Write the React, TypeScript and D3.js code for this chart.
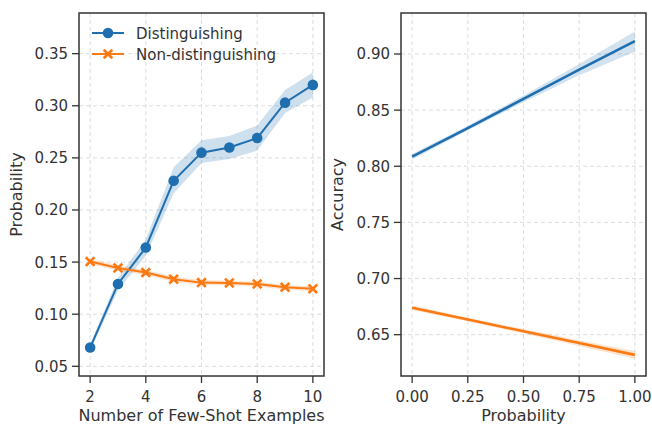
import React from 'react';
import * as d3 from 'd3';

// left panel: probability vs number of few-shot examples
const shots = [2, 3, 4, 5, 6, 7, 8, 9, 10];
const distinguishing = [0.068, 0.129, 0.164, 0.228, 0.255, 0.260, 0.269, 0.303, 0.320];
const distLow = [0.065, 0.123, 0.156, 0.216, 0.245, 0.249, 0.257, 0.293, 0.308];
const distHigh = [0.071, 0.135, 0.172, 0.241, 0.267, 0.271, 0.281, 0.315, 0.332];
const nonDistinguishing = [0.1505, 0.1444, 0.140, 0.1336, 0.1303, 0.130, 0.129, 0.1259, 0.1243];
const nonLow = [0.148, 0.142, 0.1375, 0.131, 0.128, 0.1278, 0.1268, 0.1235, 0.122];
const nonHigh = [0.153, 0.147, 0.1425, 0.1362, 0.1326, 0.1322, 0.1312, 0.1283, 0.1266];
const leftXTicks = [2, 4, 6, 8, 10];
const leftYTicks = [0.05, 0.10, 0.15, 0.20, 0.25, 0.30, 0.35];

// right panel: accuracy vs probability (regression fits)
const probGrid = [0, 0.25, 0.5, 0.75, 1];
const accDist = [0.8085, 0.834, 0.860, 0.886, 0.9115];
const accDistLow = [0.806, 0.832, 0.857, 0.881, 0.902];
const accDistHigh = [0.811, 0.836, 0.863, 0.891, 0.920];
const accNon = [0.674, 0.6635, 0.653, 0.6425, 0.632];
const accNonLow = [0.672, 0.662, 0.651, 0.640, 0.6285];
const accNonHigh = [0.676, 0.665, 0.655, 0.645, 0.6355];
const rightXTicks = [0, 0.25, 0.5, 0.75, 1];
const rightYTicks = [0.65, 0.70, 0.75, 0.80, 0.85, 0.90];

const BLUE = '#1f6fb0';
const ORANGE = '#fb7a14';
const INK = '#333';
const FONT = 'DejaVu Sans, sans-serif';

function xMarker(cx: number, cy: number, s: number) {
  // filled "X" like matplotlib's 'X'
  const a = s / 2, w = s * 0.18;
  const pts = [
    [-a, -a + w], [-a + w, -a], [0, -w], [a - w, -a], [a, -a + w], [w, 0],
    [a, a - w], [a - w, a], [0, w], [-a + w, a], [-a, a - w], [-w, 0],
  ];
  return 'M' + pts.map(p => `${cx + p[0]},${cy + p[1]}`).join('L') + 'Z';
}

type PanelProps = {
  x0: number; x1: number; y0: number; y1: number;
  xDomain: [number, number]; yDomain: [number, number];
  xTicks: number[]; yTicks: number[];
  xFmt: (v: number) => string; yFmt: (v: number) => string;
  xLabel: string; yLabel: string; yLabelX: number;
  children: (x: d3.ScaleLinear<number, number>, y: d3.ScaleLinear<number, number>) => React.ReactNode;
};

function Panel(p: PanelProps) {
  const x = d3.scaleLinear().domain(p.xDomain).range([p.x0, p.x1]);
  const y = d3.scaleLinear().domain(p.yDomain).range([p.y1, p.y0]);
  const clipId = `clip${p.x0}`;
  return (
    <g>
      <defs>
        <clipPath id={clipId}>
          <rect x={p.x0} y={p.y0} width={p.x1 - p.x0} height={p.y1 - p.y0} />
        </clipPath>
      </defs>
      {p.xTicks.map(t => (
        <line key={'gx' + t} x1={x(t)} x2={x(t)} y1={p.y0} y2={p.y1}
          stroke="#d9d9d9" strokeWidth={0.9} strokeDasharray="4,3" />
      ))}
      {p.yTicks.map(t => (
        <line key={'gy' + t} x1={p.x0} x2={p.x1} y1={y(t)} y2={y(t)}
          stroke="#d9d9d9" strokeWidth={0.9} strokeDasharray="4,3" />
      ))}
      <g clipPath={`url(#${clipId})`}>{p.children(x, y)}</g>
      <rect x={p.x0} y={p.y0} width={p.x1 - p.x0} height={p.y1 - p.y0}
        fill="none" stroke={INK} strokeWidth={1.5} />
      {p.xTicks.map(t => (
        <g key={'tx' + t}>
          <line x1={x(t)} x2={x(t)} y1={p.y1} y2={p.y1 + 7} stroke={INK} strokeWidth={1.3} />
          <text x={x(t)} y={p.y1 + 26} textAnchor="middle" fontSize={15} fill={INK} fontFamily={FONT}>
            {p.xFmt(t)}
          </text>
        </g>
      ))}
      {p.yTicks.map(t => (
        <g key={'ty' + t}>
          <line x1={p.x0 - 7} x2={p.x0} y1={y(t)} y2={y(t)} stroke={INK} strokeWidth={1.3} />
          <text x={p.x0 - 11} y={y(t) + 5.5} textAnchor="end" fontSize={15} fill={INK} fontFamily={FONT}>
            {p.yFmt(t)}
          </text>
        </g>
      ))}
      <text x={(p.x0 + p.x1) / 2} y={p.y1 + 45} textAnchor="middle" fontSize={16} fill={INK} fontFamily={FONT}>
        {p.xLabel}
      </text>
      <text transform={`translate(${p.yLabelX},${(p.y0 + p.y1) / 2}) rotate(-90)`} textAnchor="middle"
        fontSize={16} fill={INK} fontFamily={FONT}>
        {p.yLabel}
      </text>
    </g>
  );
}

export default function App() {
  const f2 = d3.format('.2f');
  const leftProps = {
    x0: 79, x1: 324, y0: 13, y1: 376,
    xDomain: [1.6, 10.4] as [number, number], yDomain: [0.0407, 0.389] as [number, number],
    xTicks: leftXTicks, yTicks: leftYTicks,
    xFmt: (v: number) => String(v), yFmt: f2,
    xLabel: 'Number of Few-Shot Examples', yLabel: 'Probability', yLabelX: 22,
  };
  const rightProps = {
    x0: 401, x1: 646, y0: 13, y1: 376,
    xDomain: [-0.05, 1.05] as [number, number], yDomain: [0.6132, 0.9365] as [number, number],
    xTicks: rightXTicks, yTicks: rightYTicks,
    xFmt: f2, yFmt: f2,
    xLabel: 'Probability', yLabel: 'Accuracy', yLabelX: 343,
  };

  return (
    <svg width={652} height={426} style={{ position: 'absolute', left: 0, top: 0, background: '#fff' }}>
      <rect width={652} height={426} fill="#fff" />
      <Panel {...leftProps}>
        {(x, y) => {
          const band = d3.area<number>().x((_, i) => x(shots[i]));
          const line = d3.line<number>().x((_, i) => x(shots[i])).y(d => y(d));
          return (
            <g>
              <path d={band.y0((_, i) => y(distLow[i])).y1((_, i) => y(distHigh[i]))(shots) || ''}
                fill={BLUE} opacity={0.22} />
              <path d={band.y0((_, i) => y(nonLow[i])).y1((_, i) => y(nonHigh[i]))(shots) || ''}
                fill={ORANGE} opacity={0.22} />
              <path d={line(distinguishing) || ''} fill="none" stroke={BLUE} strokeWidth={2} />
              <path d={line(nonDistinguishing) || ''} fill="none" stroke={ORANGE} strokeWidth={2} />
              {distinguishing.map((v, i) => (
                <circle key={'d' + i} cx={x(shots[i])} cy={y(v)} r={5.3} fill={BLUE} />
              ))}
              {nonDistinguishing.map((v, i) => (
                <path key={'n' + i} d={xMarker(x(shots[i]), y(v), 10.5)} fill={ORANGE} />
              ))}
            </g>
          );
        }}
      </Panel>
      <Panel {...rightProps}>
        {(x, y) => {
          const band = d3.area<number>().x(d => x(d));
          const line = d3.line<number>().x((_, i) => x(probGrid[i])).y(d => y(d));
          return (
            <g>
              <path d={band.y0((_, i) => y(accDistLow[i])).y1((_, i) => y(accDistHigh[i]))(probGrid) || ''}
                fill={BLUE} opacity={0.2} />
              <path d={band.y0((_, i) => y(accNonLow[i])).y1((_, i) => y(accNonHigh[i]))(probGrid) || ''}
                fill={ORANGE} opacity={0.2} />
              <path d={line(accDist) || ''} fill="none" stroke={BLUE} strokeWidth={2.6} />
              <path d={line(accNon) || ''} fill="none" stroke={ORANGE} strokeWidth={2.6} />
            </g>
          );
        }}
      </Panel>
      {/* legend */}
      <g fontFamily={FONT} fontSize={15} fill={INK}>
        <line x1={92} x2={124} y1={33} y2={33} stroke={BLUE} strokeWidth={2} />
        <circle cx={108} cy={33} r={5.3} fill={BLUE} />
        <text x={136} y={38.5}>Distinguishing</text>
        <line x1={92} x2={124} y1={54} y2={54} stroke={ORANGE} strokeWidth={2} />
        <path d={xMarker(108, 54, 10.5)} fill={ORANGE} />
        <text x={136} y={59.5}>Non-distinguishing</text>
      </g>
    </svg>
  );
}
